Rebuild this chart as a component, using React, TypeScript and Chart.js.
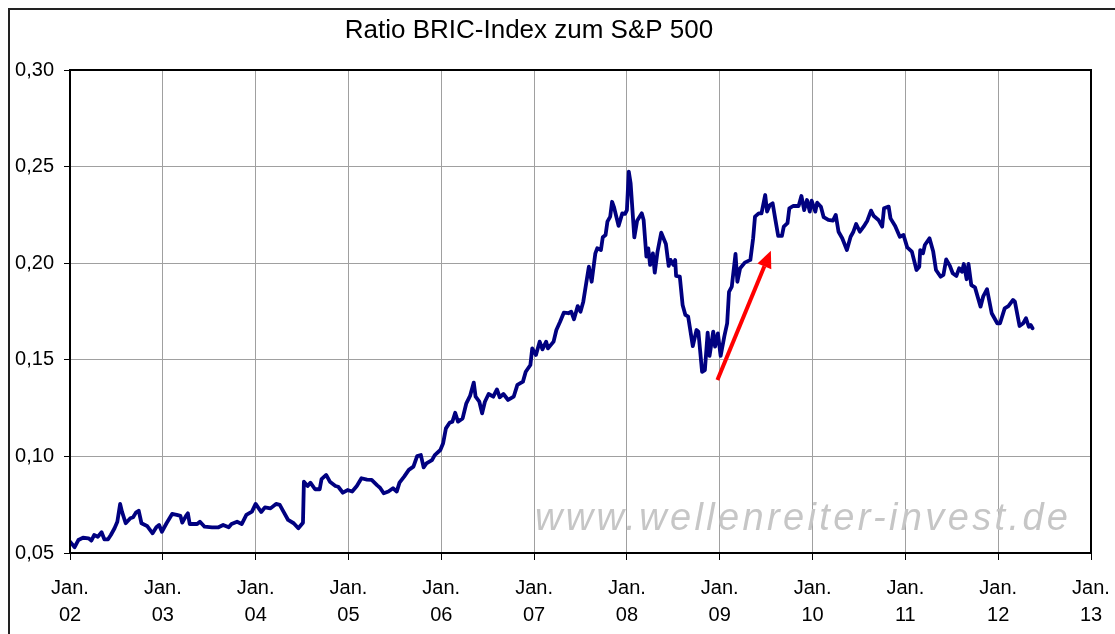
import React, { useEffect, useRef } from 'react';
import { Chart, registerables } from 'chart.js';

Chart.register(...registerables);

const TITLE = 'Ratio BRIC-Index zum S&P 500';
const WATERMARK = 'www.wellenreiter-invest.de';

// decimal years
const dates = [
  2002.00, 2002.05, 2002.09, 2002.14, 2002.20, 2002.23, 2002.26, 2002.30, 2002.34, 2002.37,
  2002.41, 2002.44, 2002.48, 2002.51, 2002.54, 2002.56, 2002.60, 2002.65, 2002.68, 2002.71,
  2002.74, 2002.77, 2002.83, 2002.89, 2002.93, 2002.96, 2002.99, 2003.04, 2003.10, 2003.15,
  2003.19, 2003.21, 2003.25, 2003.27, 2003.29, 2003.37, 2003.40, 2003.45, 2003.53, 2003.60,
  2003.65, 2003.71, 2003.74, 2003.80, 2003.85, 2003.90, 2003.96, 2004.00, 2004.06, 2004.10,
  2004.16, 2004.22, 2004.26, 2004.30, 2004.35, 2004.41, 2004.46, 2004.51, 2004.52, 2004.56,
  2004.59, 2004.64, 2004.69, 2004.71, 2004.76, 2004.80, 2004.86, 2004.89, 2004.94, 2004.99,
  2005.04, 2005.09, 2005.14, 2005.20, 2005.25, 2005.31, 2005.34, 2005.38, 2005.43, 2005.48,
  2005.52, 2005.55, 2005.60, 2005.65, 2005.70, 2005.74, 2005.78, 2005.81, 2005.84, 2005.90,
  2005.93, 2005.99, 2006.02, 2006.05, 2006.09, 2006.12, 2006.15, 2006.18, 2006.23, 2006.27,
  2006.31, 2006.35, 2006.37, 2006.41, 2006.44, 2006.47, 2006.51, 2006.56, 2006.60, 2006.63,
  2006.67, 2006.72, 2006.78, 2006.82, 2006.88, 2006.91, 2006.96, 2006.98, 2007.02, 2007.06,
  2007.09, 2007.13, 2007.15, 2007.21, 2007.24, 2007.28, 2007.32, 2007.37, 2007.40, 2007.43,
  2007.47, 2007.50, 2007.53, 2007.57, 2007.59, 2007.62, 2007.66, 2007.68, 2007.72, 2007.74,
  2007.77, 2007.79, 2007.82, 2007.84, 2007.86, 2007.91, 2007.95, 2007.98, 2008.00, 2008.02,
  2008.04, 2008.08, 2008.11, 2008.16, 2008.18, 2008.21, 2008.23, 2008.25, 2008.28, 2008.30,
  2008.33, 2008.37, 2008.42, 2008.45, 2008.47, 2008.50, 2008.52, 2008.53, 2008.57, 2008.60,
  2008.63, 2008.66, 2008.71, 2008.75, 2008.77, 2008.81, 2008.84, 2008.87, 2008.89, 2008.93,
  2008.95, 2008.98, 2009.01, 2009.05, 2009.08, 2009.10, 2009.13, 2009.17, 2009.19, 2009.22,
  2009.27, 2009.33, 2009.36, 2009.38, 2009.42, 2009.45, 2009.49, 2009.51, 2009.54, 2009.57,
  2009.60, 2009.63, 2009.67, 2009.69, 2009.73, 2009.75, 2009.79, 2009.85, 2009.88, 2009.91,
  2009.94, 2009.97, 2009.99, 2010.03, 2010.05, 2010.09, 2010.12, 2010.17, 2010.22, 2010.25,
  2010.28, 2010.32, 2010.37, 2010.41, 2010.44, 2010.47, 2010.51, 2010.55, 2010.59, 2010.63,
  2010.66, 2010.71, 2010.75, 2010.77, 2010.82, 2010.84, 2010.89, 2010.94, 2010.98, 2011.02,
  2011.07, 2011.12, 2011.15, 2011.16, 2011.19, 2011.21, 2011.26, 2011.30, 2011.33, 2011.38,
  2011.41, 2011.44, 2011.48, 2011.51, 2011.55, 2011.58, 2011.61, 2011.63, 2011.66, 2011.68,
  2011.71, 2011.75, 2011.81, 2011.84, 2011.88, 2011.93, 2011.99, 2012.02, 2012.07, 2012.11,
  2012.16, 2012.18, 2012.23, 2012.27, 2012.30, 2012.33, 2012.35, 2012.37,
];

const ratio = [
  0.0559, 0.0530, 0.0567, 0.0579, 0.0576, 0.0564, 0.0593, 0.0584, 0.0607, 0.0571,
  0.0571, 0.0593, 0.0628, 0.0662, 0.0754, 0.0714, 0.0654, 0.0680, 0.0685, 0.0709,
  0.0719, 0.0654, 0.0640, 0.0602, 0.0633, 0.0645, 0.0610, 0.0654, 0.0702, 0.0697,
  0.0692, 0.0657, 0.0692, 0.0706, 0.0650, 0.0650, 0.0662, 0.0636, 0.0633, 0.0633,
  0.0645, 0.0633, 0.0650, 0.0662, 0.0650, 0.0697, 0.0714, 0.0754, 0.0712, 0.0736,
  0.0731, 0.0754, 0.0749, 0.0714, 0.0671, 0.0654, 0.0628, 0.0657, 0.0869, 0.0847,
  0.0864, 0.0830, 0.0830, 0.0882, 0.0904, 0.0869, 0.0847, 0.0843, 0.0812, 0.0826,
  0.0818, 0.0847, 0.0887, 0.0880, 0.0878, 0.0850, 0.0838, 0.0809, 0.0818, 0.0835,
  0.0818, 0.0864, 0.0895, 0.0930, 0.0947, 0.1002, 0.1007, 0.0943, 0.0964, 0.0981,
  0.1007, 0.1033, 0.1068, 0.1145, 0.1174, 0.1180, 0.1226, 0.1180, 0.1197, 0.1275,
  0.1313, 0.1382, 0.1309, 0.1283, 0.1223, 0.1283, 0.1323, 0.1309, 0.1347, 0.1306,
  0.1323, 0.1292, 0.1309, 0.1370, 0.1387, 0.1438, 0.1473, 0.1559, 0.1525, 0.1594,
  0.1554, 0.1594, 0.1559, 0.1594, 0.1654, 0.1697, 0.1744, 0.1741, 0.1749, 0.1710,
  0.1778, 0.1749, 0.1801, 0.1922, 0.1982, 0.1904, 0.2051, 0.2077, 0.2068, 0.2134,
  0.2146, 0.2215, 0.2241, 0.2318, 0.2292, 0.2193, 0.2258, 0.2255, 0.2275, 0.2474,
  0.2413, 0.2134, 0.2220, 0.2258, 0.2224, 0.2034, 0.2077, 0.1991, 0.2051, 0.1951,
  0.2060, 0.2158, 0.2099, 0.1986, 0.2017, 0.1991, 0.2017, 0.1934, 0.1930, 0.1784,
  0.1732, 0.1723, 0.1571, 0.1654, 0.1646, 0.1438, 0.1447, 0.1640, 0.1520, 0.1646,
  0.1568, 0.1637, 0.1520, 0.1623, 0.1689, 0.1852, 0.1879, 0.2048, 0.1904, 0.1974,
  0.2003, 0.2017, 0.2129, 0.2241, 0.2258, 0.2258, 0.2353, 0.2267, 0.2301, 0.2310,
  0.2224, 0.2141, 0.2141, 0.2189, 0.2207, 0.2284, 0.2296, 0.2296, 0.2348, 0.2275,
  0.2327, 0.2267, 0.2324, 0.2267, 0.2313, 0.2292, 0.2238, 0.2224, 0.2220, 0.2250,
  0.2163, 0.2129, 0.2068, 0.2137, 0.2163, 0.2203, 0.2163, 0.2189, 0.2220, 0.2272,
  0.2244, 0.2224, 0.2189, 0.2284, 0.2293, 0.2232, 0.2193, 0.2137, 0.2146, 0.2082,
  0.2060, 0.1965, 0.1982, 0.2068, 0.2051, 0.2094, 0.2129, 0.2060, 0.1965, 0.1930,
  0.1939, 0.2020, 0.1986, 0.1948, 0.1934, 0.1974, 0.1956, 0.1996, 0.1917, 0.1996,
  0.1887, 0.1875, 0.1775, 0.1830, 0.1865, 0.1741, 0.1689, 0.1689, 0.1766, 0.1778,
  0.1810, 0.1801, 0.1675, 0.1689, 0.1715, 0.1671, 0.1680, 0.1663,
];

const xTickYears = [2002, 2003, 2004, 2005, 2006, 2007, 2008, 2009, 2010, 2011, 2012, 2013];
const yTickValues = [0.05, 0.1, 0.15, 0.2, 0.25, 0.3];
const xTickPrefix = 'Jan.';

// red arrow annotation: [year, value]
const arrowFrom = [2008.975, 0.1396];
const arrowTo = [2009.551, 0.2065];

const FONT = '"Liberation Sans", Arial, sans-serif';

const framePlugin = {
  id: 'framePlugin',
  beforeDatasetsDraw(chart: any) {
    const { ctx, chartArea } = chart;
    ctx.save();
    ctx.font = `italic 38px ${FONT}`;
    const targetW = 533;
    const n = WATERMARK.length;
    const w0 = ctx.measureText(WATERMARK).width;
    const right = chartArea.right - 23;
    const baseline = chartArea.bottom - 23;
    ctx.fillStyle = '#c6c6c6';
    ctx.textBaseline = 'alphabetic';
    ctx.textAlign = 'left';
    if ('letterSpacing' in ctx) {
      (ctx as any).letterSpacing = `${Math.max(0, (targetW - w0) / (n - 1))}px`;
      ctx.fillText(WATERMARK, right - targetW, baseline);
    } else {
      ctx.translate(right - targetW, baseline);
      ctx.scale(targetW / w0, 1);
      ctx.fillText(WATERMARK, 0, 0);
    }
    ctx.restore();
  },
  afterDraw(chart: any) {
    const { ctx, chartArea, scales } = chart;
    ctx.save();
    // plot border
    ctx.strokeStyle = '#000000';
    ctx.lineWidth = 2;
    ctx.strokeRect(chartArea.left, chartArea.top, chartArea.right - chartArea.left, chartArea.bottom - chartArea.top);
    // title
    ctx.fillStyle = '#000000';
    ctx.font = `26px ${FONT}`;
    ctx.textAlign = 'center';
    ctx.textBaseline = 'alphabetic';
    ctx.fillText(TITLE, 519, 28);
    // arrow
    const x1 = scales.x.getPixelForValue(arrowFrom[0]);
    const y1 = scales.y.getPixelForValue(arrowFrom[1]);
    const x2 = scales.x.getPixelForValue(arrowTo[0]);
    const y2 = scales.y.getPixelForValue(arrowTo[1]);
    const ang = Math.atan2(y2 - y1, x2 - x1);
    const headLen = 17;
    const headHalf = 7.5;
    const bx = x2 - headLen * Math.cos(ang);
    const by = y2 - headLen * Math.sin(ang);
    ctx.strokeStyle = '#ff0000';
    ctx.fillStyle = '#ff0000';
    ctx.lineWidth = 4;
    ctx.beginPath();
    ctx.moveTo(x1, y1);
    ctx.lineTo(bx, by);
    ctx.stroke();
    ctx.beginPath();
    ctx.moveTo(x2, y2);
    ctx.lineTo(bx + headHalf * Math.sin(ang), by - headHalf * Math.cos(ang));
    ctx.lineTo(bx - headHalf * Math.sin(ang), by + headHalf * Math.cos(ang));
    ctx.closePath();
    ctx.fill();
    ctx.restore();
  },
};

export default function App() {
  const ref = useRef<HTMLCanvasElement | null>(null);

  useEffect(() => {
    if (!ref.current) return;
    const chart = new Chart(ref.current, {
      type: 'line',
      data: {
        datasets: [
          {
            data: dates.map((d, i) => ({ x: d, y: ratio[i] })),
            borderColor: '#000080',
            borderWidth: 3.8,
            pointRadius: 0,
            tension: 0,
            borderJoinStyle: 'round',
            borderCapStyle: 'round',
          },
        ],
      },
      options: {
        animation: false,
        responsive: false,
        maintainAspectRatio: false,
        events: [],
        layout: { padding: { left: 0, top: 60, right: 24, bottom: 0 } },
        plugins: { legend: { display: false }, tooltip: { enabled: false }, title: { display: false } },
        scales: {
          x: {
            type: 'linear',
            min: 2002,
            max: 2013,
            afterFit: (s: any) => { s.height = 81; s.paddingLeft = 0; s.paddingRight = 0; },
            afterBuildTicks: (s: any) => { s.ticks = xTickYears.map((v) => ({ value: v })); },
            grid: { color: '#a0a0a0', lineWidth: 1, tickColor: '#000000', tickLength: 7, tickWidth: 1 },
            border: { color: '#000000', width: 2 },
            ticks: {
              autoSkip: false,
              maxRotation: 0,
              minRotation: 0,
              color: '#000000',
              padding: 15,
              font: { family: FONT, size: 20, lineHeight: 1.35 },
              callback: (v: any) => [xTickPrefix, String(v).slice(2)],
            },
          },
          y: {
            type: 'linear',
            min: 0.05,
            max: 0.3,
            afterFit: (s: any) => { s.width = 60; s.paddingTop = 0; s.paddingBottom = 0; },
            afterBuildTicks: (s: any) => { s.ticks = yTickValues.map((v) => ({ value: v })); },
            grid: { color: '#a0a0a0', lineWidth: 1, tickColor: '#000000', tickLength: 6, tickWidth: 1 },
            border: { color: '#000000', width: 2 },
            ticks: {
              color: '#000000',
              padding: 10,
              font: { family: FONT, size: 20 },
              callback: (v: any) => Number(v).toFixed(2).replace('.', ','),
            },
          },
        },
      },
      plugins: [framePlugin],
    } as any);
    return () => chart.destroy();
  }, []);

  return (
    <div
      style={{
        position: 'fixed',
        left: 8,
        top: 8,
        width: 1105,
        height: 624,
        borderLeft: '2px solid #222',
        borderTop: '2px solid #222',
        background: '#fff',
      }}
    >
      <canvas ref={ref} width={1105} height={624} style={{ display: 'block', width: 1105, height: 624 }} />
    </div>
  );
}
